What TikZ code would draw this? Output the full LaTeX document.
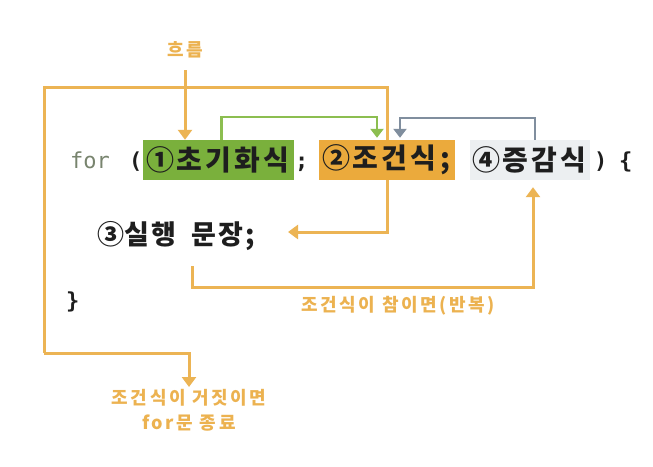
\documentclass[tikz,border=0pt]{standalone}
\usepackage{fontspec}
\usetikzlibrary{arrows.meta}
\newfontfamily\kr{Noto Sans CJK KR}[LetterSpace=14]
\newfontfamily\krc{Noto Sans CJK KR}
\newfontfamily\mono{DejaVu Sans Mono}
\definecolor{oline}{RGB}{236,180,84}
\definecolor{otext}{RGB}{236,178,80}
\definecolor{gbox}{RGB}{122,176,60}
\definecolor{gline}{RGB}{140,190,80}
\definecolor{obox}{RGB}{235,170,60}
\definecolor{ybox}{RGB}{236,239,241}
\definecolor{yline}{RGB}{128,142,158}
\definecolor{forcol}{RGB}{120,132,110}
\definecolor{ink}{RGB}{30,30,30}
% fixed-width cells (monospace-like layout)
\newcommand\ca[1]{\makebox[29pt]{#1}}
\newcommand\cs[1]{\makebox[26.7pt]{#1}}
\newcommand\ch[1]{\makebox[13.3pt]{#1}}
\tikzset{
  code/.style={font=\krc\bfseries\fontsize{28}{28}\selectfont, text=ink, inner sep=0pt},
  codes/.style={font=\krc\bfseries\fontsize{27}{27}\selectfont, text=ink, inner sep=0pt},
  monob/.style={font=\mono\bfseries\fontsize{22}{22}\selectfont, text=ink, inner sep=0pt},
  codebox/.style={code, minimum height=40pt, inner sep=0pt},
  lbl/.style={font=\kr\bfseries\fontsize{18}{25}\selectfont, text=otext, inner sep=2pt, align=center},
  oarrow/.style={draw=oline, line width=3pt, -{Triangle[width=14pt,length=10pt]}},
  garrow/.style={draw=gline, line width=2.5pt, -{Triangle[width=13pt,length=9pt]}},
  yarrow/.style={draw=yline, line width=2.5pt, -{Triangle[width=13pt,length=9pt]}},
}
\begin{document}
\begin{tikzpicture}[x=1pt,y=-1pt]
\path[use as bounding box, fill=white] (0,0) rectangle (653,466);
% code line 1
\node[font=\mono\fontsize{22}{22}\selectfont, text=forcol, anchor=base west, inner sep=0pt] (for) at (70,168) {for};
\node[monob, anchor=base west] (lp) at (129,168) {(};
\node[codebox, fill=gbox, minimum width=151pt] (init) at (218.5,160) {\ca{①}\ca{초}\ca{기}\ca{화}\ca{식}};
\node[monob, anchor=base west] (sc) at (295,168) {;};
\node[codebox, fill=obox, minimum width=136pt] (cond) at (387,160) {\ca{②}\ca{조}\ca{건}\ca{식}\ch{;}};
\node[codebox, fill=ybox, minimum width=120pt] (inc) at (530,160) {\ca{④}\ca{증}\ca{감}\ca{식}};
\node[monob, anchor=base west] (rp) at (594,168) {)};
\node[monob, anchor=base west] (lb) at (619,168) {\{};
% line 2 and 3
\node[codes, anchor=base west] (stmt) at (97,244) {\cs{③}\cs{실}\cs{행}\hspace{13.3pt}\cs{문}\cs{장}\ch{;}};
\node[monob, anchor=base west] (rb) at (66,308) {\}};
% labels
\node[lbl] (flow) at (185,50) {흐름};
\node[lbl, anchor=north] (false) at (189,387) {조건식이 거짓이면\\for문 종료};
\node[lbl] (true) at (398,306) {조건식이 참이면(반복)};
\coordinate (tl) at (44,87);
\coordinate (bl) at (44,353);
\coordinate (ls) at (192,266);
% connectors
\draw[oarrow, shorten <=10pt] (flow.south) -- (flow.south |- init.north);
\draw[draw=oline, line width=3pt] (cond.north) -- (cond.north |- tl) -- (tl) -- (bl);
\draw[oarrow] (bl) -| (false.north);
\draw[oarrow] (cond.south) |- (288,232) coordinate (stmtin);
\draw[oarrow, shorten >=7pt] (ls) |- ([xshift=3pt]inc.south |- 0,287) -- ([xshift=3pt]inc.south);
\draw[garrow, shorten >=2pt] ([xshift=3pt]init.north) -- ++(0,-23) -| ([xshift=-10pt]cond.north);
\draw[yarrow, shorten >=2pt] ([xshift=5pt]inc.north) -- ++(0,-22) -| ([xshift=13pt]cond.north);
\end{tikzpicture}
\end{document}
